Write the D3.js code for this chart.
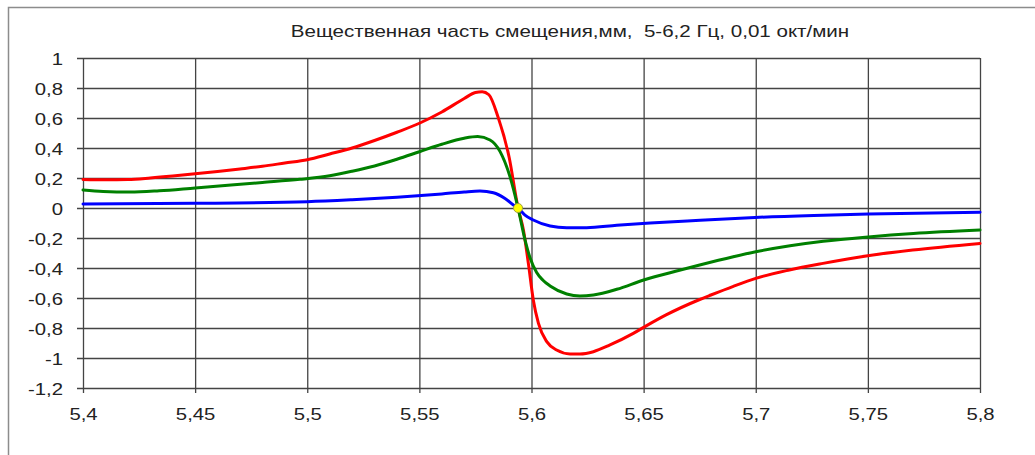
<!DOCTYPE html>
<html>
<head>
<meta charset="utf-8">
<script src="https://cdn.jsdelivr.net/npm/d3@7"></script>
<style>
  html, body { margin: 0; padding: 0; background: #ffffff; }
  svg { display: block; }
  text { font-family: "Liberation Sans", Arial, sans-serif; fill: #222; }
</style>
</head>
<body>
<svg id="chart" width="1035" height="455"></svg>
<script>
// Chart text
const titleText = "Вещественная часть смещения,мм,  5-6,2 Гц, 0,01 окт/мин";

// Axis ticks and their labels
const xTicks = [5.4, 5.45, 5.5, 5.55, 5.6, 5.65, 5.7, 5.75, 5.8];
const xTickLabels = ["5,4", "5,45", "5,5", "5,55", "5,6", "5,65", "5,7", "5,75", "5,8"];
const yTicks = [1, 0.8, 0.6, 0.4, 0.2, 0, -0.2, -0.4, -0.6, -0.8, -1, -1.2];
const yTickLabels = ["1", "0,8", "0,6", "0,4", "0,2", "0", "-0,2", "-0,4", "-0,6", "-0,8", "-1", "-1,2"];

// Red series: frequency, Hz -> displacement, mm
const redFreq = [5.400, 5.410, 5.420, 5.430, 5.440, 5.450, 5.460, 5.470, 5.480, 5.490, 5.500, 5.510, 5.520, 5.530, 5.540, 5.550, 5.560,
                 5.570, 5.575, 5.578, 5.581, 5.585, 5.590, 5.594,
                 5.5964, 5.5986, 5.6008, 5.6031, 5.6068, 5.6112, 5.6172, 5.6216, 5.6276, 5.635, 5.6454, 5.650, 5.660, 5.675, 5.680,
                 5.690, 5.700, 5.715, 5.730, 5.750, 5.770, 5.800];
const redDisp = [0.190, 0.188, 0.190, 0.200, 0.213, 0.228, 0.243, 0.260, 0.278, 0.300, 0.322, 0.360, 0.400, 0.450, 0.505, 0.565, 0.640,
                 0.730, 0.770, 0.775, 0.755, 0.610, 0.340, 0.000,
                 -0.147, -0.369, -0.613, -0.769, -0.891, -0.947, -0.973, -0.973, -0.958, -0.913, -0.836, -0.796, -0.713, -0.610, -0.580,
                 -0.522, -0.469, -0.413, -0.369, -0.318, -0.280, -0.236];

// Green series
const greenFreq = [5.400, 5.409, 5.421, 5.434, 5.450, 5.466, 5.480, 5.4967, 5.510, 5.520, 5.530, 5.540, 5.550, 5.560, 5.570, 5.576, 5.5815, 5.586, 5.5904, 5.594,
                   5.5971, 5.5993, 5.6023, 5.605, 5.6083, 5.6157, 5.6216, 5.6276, 5.638, 5.650, 5.666, 5.675, 5.690, 5.700,
                   5.7153, 5.7301, 5.7502, 5.7703, 5.800];
const greenDisp = [0.120, 0.110, 0.106, 0.115, 0.134, 0.153, 0.170, 0.191, 0.215, 0.245, 0.280, 0.325, 0.375, 0.425, 0.465, 0.476, 0.453, 0.376, 0.209, 0.000,
                   -0.213, -0.330, -0.430, -0.480, -0.520, -0.573, -0.587, -0.580, -0.542, -0.480, -0.415, -0.380, -0.325, -0.292,
                   -0.252, -0.222, -0.193, -0.170, -0.147];

// Blue series
const blueFreq = [5.400, 5.450, 5.500, 5.520, 5.540, 5.560, 5.570, 5.577, 5.583, 5.5882, 5.5926, 5.594, 5.5971, 5.6008, 5.6083, 5.6157, 5.6246,
                  5.638, 5.6529, 5.6752, 5.6997, 5.7301, 5.7502, 5.800];
const blueDisp = [0.027, 0.031, 0.042, 0.055, 0.072, 0.094, 0.107, 0.113, 0.102, 0.064, 0.013, 0.000, -0.047, -0.080, -0.120, -0.131, -0.131,
                  -0.115, -0.100, -0.082, -0.063, -0.048, -0.040, -0.029];

// Common crossing point of the three curves
const crossFreq = [5.594];
const crossDisp = [0];

const seriesList = [
  { name: "red",   color: "#ff0000", freq: redFreq,   disp: redDisp },
  { name: "green", color: "#008000", freq: greenFreq, disp: greenDisp },
  { name: "blue",  color: "#0000ff", freq: blueFreq,  disp: blueDisp }
];

const svg = d3.select("#chart");
const W = 1035, H = 455;
const plot = { left: 83, right: 980, top: 58, bottom: 388 };
const textStretch = 1.27;

// Outer chart frame (open to the right and bottom)
svg.append("path")
  .attr("d", `M8.5,${H} V7.5 H${W}`)
  .attr("fill", "none")
  .attr("stroke", "#8c8c8c")
  .attr("stroke-width", 1.5);

const x = d3.scaleLinear().domain([5.4, 5.8]).range([plot.left, plot.right]);
const y = d3.scaleLinear().domain([-1.2, 1]).range([plot.bottom, plot.top]);

const gridColor = "#444444";

// Horizontal grid + y ticks
const yAxis = svg.append("g")
  .attr("transform", `translate(${plot.left},0)`)
  .call(d3.axisLeft(y)
    .tickValues(yTicks)
    .tickSizeInner(-(plot.right - plot.left))
    .tickSizeOuter(0)
    .tickFormat((d, i) => yTickLabels[i]));
yAxis.select(".domain").remove();
yAxis.selectAll(".tick line")
  .attr("x2", plot.right - plot.left)
  .attr("x1", -6)
  .attr("stroke", gridColor)
  .attr("stroke-width", 1.3);
yAxis.selectAll(".tick text")
  .attr("x", null)
  .attr("dy", null)
  .attr("text-anchor", "end")
  .attr("font-size", 16)
  .attr("font-family", "Liberation Sans, Arial, sans-serif")
  .attr("fill", "#222")
  .attr("transform", `translate(-20,6) scale(${textStretch},1)`);

// Vertical grid + x ticks
const xAxis = svg.append("g")
  .attr("transform", `translate(0,${plot.bottom})`)
  .call(d3.axisBottom(x)
    .tickValues(xTicks)
    .tickSizeInner(5)
    .tickSizeOuter(0)
    .tickFormat((d, i) => xTickLabels[i]));
xAxis.select(".domain").remove();
xAxis.selectAll(".tick line")
  .attr("y1", -(plot.bottom - plot.top))
  .attr("y2", 5)
  .attr("stroke", gridColor)
  .attr("stroke-width", 1.3);
xAxis.selectAll(".tick text")
  .attr("y", null)
  .attr("dy", null)
  .attr("text-anchor", "middle")
  .attr("font-size", 16)
  .attr("font-family", "Liberation Sans, Arial, sans-serif")
  .attr("fill", "#222")
  .attr("transform", `translate(0,32) scale(${textStretch},1)`);

// Series curves
const line = d3.line()
  .x(d => x(d[0]))
  .y(d => y(d[1]))
  .curve(d3.curveMonotoneX);

svg.append("g").selectAll("path")
  .data(seriesList)
  .join("path")
  .attr("d", s => line(s.freq.map((f, i) => [f, s.disp[i]])))
  .attr("fill", "none")
  .attr("stroke", s => s.color)
  .attr("stroke-width", 3)
  .attr("stroke-linejoin", "round")
  .attr("stroke-linecap", "round");

// Crossing marker
svg.append("g").selectAll("circle")
  .data(crossFreq.map((f, i) => [f, crossDisp[i]]))
  .join("circle")
  .attr("cx", d => x(d[0]))
  .attr("cy", d => y(d[1]))
  .attr("r", 4.5)
  .attr("fill", "#ffff00")
  .attr("stroke", "#a0a040")
  .attr("stroke-width", 1);

// Title
svg.append("text")
  .attr("transform", `translate(570,37) scale(1.285,1)`)
  .attr("text-anchor", "middle")
  .attr("font-size", 16)
  .style("white-space", "pre")
  .text(titleText);
</script>
</body>
</html>
